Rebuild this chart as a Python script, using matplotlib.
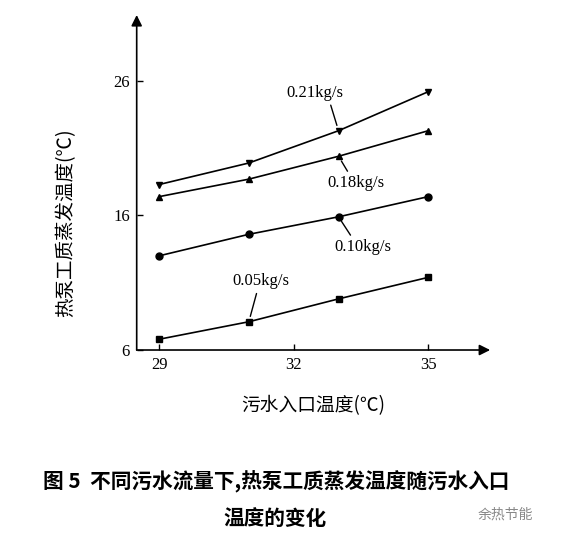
import matplotlib.pyplot as plt

plt.rcParams['font.family'] = ['Liberation Serif', 'Noto Sans CJK SC']

# sewage inlet temperature (C)
inlet_temp = [29, 31, 33, 35]

# evaporation temperature for each sewage flow rate
evap_021 = [18.3, 19.9, 22.3, 25.2]
evap_018 = [17.4, 18.7, 20.4, 22.3]
evap_010 = [13.0, 14.6, 15.9, 17.4]
evap_005 = [6.8, 8.1, 9.8, 11.4]

labels = ['0.21kg/s', '0.18kg/s', '0.10kg/s', '0.05kg/s']
x_ticks = [29, 32, 35]
y_ticks = [6, 16, 26]

fig = plt.figure(figsize=(5.71, 5.44), dpi=100)
ax = fig.add_axes([0.2394, 0.3566, 0.619, 0.6158])

series = [evap_021, evap_018, evap_010, evap_005]
markers = ['v', '^', 'o', 's']
for ys, m in zip(series, markers):
    ax.plot(inlet_temp, ys, color='black', lw=1.2, marker=m, markersize=5)

ax.set_xlim(28.5, 36.38)
ax.set_ylim(6, 30.9)
ax.set_xticks(x_ticks)
ax.set_yticks(y_ticks)
ax.tick_params(direction='in', length=4, width=1, labelsize=12, pad=5)
for s in ['top', 'right', 'left', 'bottom']:
    ax.spines[s].set_visible(False)

# axis lines with arrow heads
ax.annotate('', xy=(1, 0), xytext=(0, 0), xycoords='axes fraction',
            arrowprops=dict(arrowstyle='-|>', color='black', lw=1.2,
                            mutation_scale=16, shrinkA=0, shrinkB=0))
ax.annotate('', xy=(0, 1), xytext=(0, 0), xycoords='axes fraction',
            arrowprops=dict(arrowstyle='-|>', color='black', lw=1.2,
                            mutation_scale=16, shrinkA=0, shrinkB=0))

# curve labels
ann = [
    (labels[0], (33, evap_021[2]), (32.48, 25.1), (0.75, 0)),
    (labels[1], (33, evap_018[2]), (33.38, 18.4), (0.4, 1)),
    (labels[2], (33, evap_010[2]), (33.54, 13.65), (0.33, 1)),
    (labels[3], (31, evap_005[1]), (31.26, 11.1), (0.45, 0)),
]
for txt, xy, xyt, rp in ann:
    ax.annotate(txt, xy=xy, xytext=xyt, ha='center', va='center', fontsize=12,
                arrowprops=dict(arrowstyle='-', color='black', lw=1,
                                relpos=rp, shrinkA=1, shrinkB=4))

ax.set_xlabel('污水入口温度(℃)', fontsize=13.5, family=['Noto Sans CJK SC'])
ax.xaxis.set_label_coords(0.5, -0.135)
ax.set_ylabel('热泵工质蒸发温度(℃)', fontsize=14, family=['Noto Sans CJK SC'])
ax.yaxis.set_label_coords(-0.17, 0.38)

fig.text(0.483, 1 - 482 / 544, '图 5  不同污水流量下,热泵工质蒸发温度随污水入口',
         ha='center', va='center', fontsize=14.9, fontweight='bold',
         family=['Noto Sans CJK SC'])
fig.text(0.482, 1 - 518 / 544, '温度的变化', ha='center', va='center',
         fontsize=14.9, fontweight='bold', family=['Noto Sans CJK SC'])
fig.text(0.885, 1 - 515 / 544, '余热节能', ha='center', va='center',
         fontsize=10, color='#888888', family=['Noto Sans CJK SC'])

fig.savefig('out.png', dpi=100)
